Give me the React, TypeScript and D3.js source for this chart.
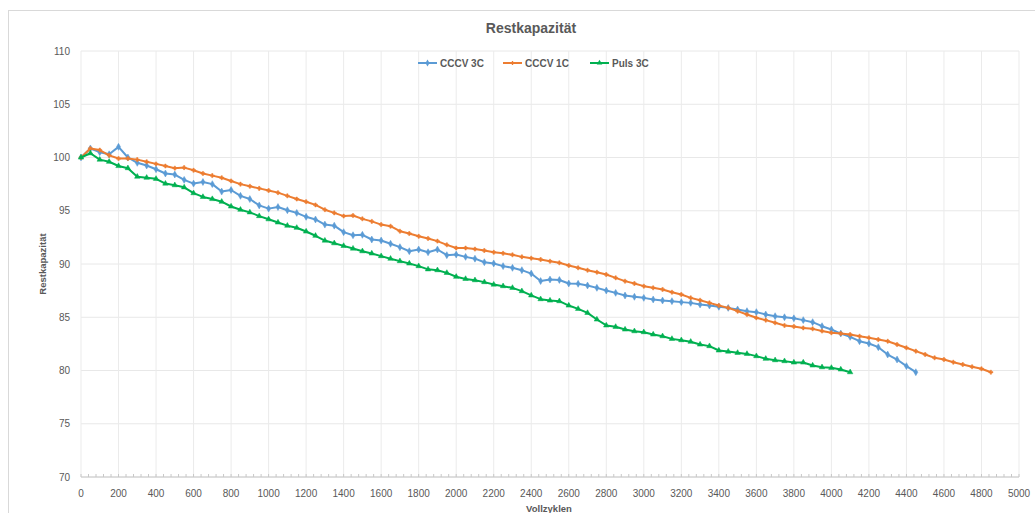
import React from "react";
import * as d3 from "d3";

const TITLE = "Restkapazität";
const X_TITLE = "Vollzyklen";
const Y_TITLE = "Restkapazität";
const CYCLE_STEP = 50;

const X_TICKS = [0, 200, 400, 600, 800, 1000, 1200, 1400, 1600, 1800, 2000, 2200, 2400, 2600, 2800, 3000, 3200, 3400, 3600, 3800, 4000, 4200, 4400, 4600, 4800, 5000];
const Y_TICKS = [70, 75, 80, 85, 90, 95, 100, 105, 110];

const cccv3C = [
  100, 100.85, 100.5, 100.3, 101.0, 100.0, 99.5, 99.25, 98.9, 98.5,
  98.4, 97.9, 97.55, 97.7, 97.5, 96.8, 96.95, 96.4, 96.1, 95.5,
  95.2, 95.35, 95.05, 94.8, 94.43, 94.18, 93.7, 93.6, 92.99, 92.7,
  92.74, 92.3, 92.2, 91.9, 91.58, 91.2, 91.36, 91.1, 91.36, 90.83,
  90.89, 90.67, 90.5, 90.17, 90.05, 89.8, 89.64, 89.42, 89.1, 88.4,
  88.54, 88.5, 88.17, 88.14, 87.98, 87.76, 87.51, 87.29, 87.04, 86.92,
  86.82, 86.67, 86.57, 86.51, 86.42, 86.35, 86.2, 86.1, 85.98, 85.88,
  85.73, 85.57, 85.48, 85.26, 85.1, 85.0, 84.9, 84.73, 84.54, 84.16,
  83.85, 83.47, 83.16, 82.75, 82.53, 82.19, 81.5, 81.03, 80.41, 79.84,
];

const cccv1C = [
  100, 100.85, 100.7, 100.2, 99.9, 99.9, 99.8, 99.6, 99.4, 99.2,
  99.0, 99.05, 98.8, 98.5, 98.3, 98.1, 97.8, 97.5, 97.3, 97.1,
  96.9, 96.7, 96.4, 96.1, 95.85, 95.55, 95.1, 94.8, 94.5, 94.55,
  94.24, 94.0, 93.7, 93.55, 93.08, 92.86, 92.6, 92.4, 92.15, 91.8,
  91.5, 91.5, 91.4, 91.27, 91.1, 91.0, 90.86, 90.67, 90.55, 90.42,
  90.26, 90.11, 89.86, 89.64, 89.42, 89.23, 89.01, 88.7, 88.39, 88.17,
  87.92, 87.76, 87.61, 87.35, 87.14, 86.82, 86.6, 86.35, 86.1, 85.88,
  85.57, 85.26, 84.95, 84.73, 84.48, 84.23, 84.13, 84.0, 83.91, 83.7,
  83.54, 83.47, 83.38, 83.22, 83.07, 82.91, 82.75, 82.44, 82.13, 81.82,
  81.5, 81.19, 81.03, 80.78, 80.56, 80.35, 80.16, 79.84,
];

const puls3C = [
  100, 100.4, 99.8, 99.6, 99.2, 99.0, 98.2, 98.1, 98.0, 97.55,
  97.4, 97.2, 96.65, 96.3, 96.1, 95.85, 95.4, 95.1, 94.85, 94.5,
  94.2, 93.9, 93.6, 93.4, 93.05, 92.65, 92.2, 91.95, 91.7, 91.45,
  91.2, 90.99, 90.74, 90.5, 90.27, 90.05, 89.8, 89.5, 89.42, 89.17,
  88.8, 88.6, 88.48, 88.3, 88.07, 87.92, 87.76, 87.45, 87.05, 86.7,
  86.57, 86.51, 86.1, 85.79, 85.41, 84.79, 84.23, 84.1, 83.85, 83.69,
  83.6, 83.38, 83.22, 82.97, 82.85, 82.7, 82.44, 82.29, 81.88, 81.78,
  81.66, 81.56, 81.35, 81.1, 80.97, 80.88, 80.75, 80.75, 80.47, 80.31,
  80.25, 80.1, 79.84,
];

const SERIES = [
  { name: "CCCV 3C", values: cccv3C, color: "#5B9BD5", marker: "diamond" },
  { name: "CCCV 1C", values: cccv1C, color: "#ED7D31", marker: "cross" },
  { name: "Puls 3C", values: puls3C, color: "#00B050", marker: "triangle" },
];

const W = 1035;
const H = 513;
const M = { left: 81, right: 1019, top: 51, bottom: 477 };
const FONT = "'Liberation Sans Narrow', 'Liberation Sans', Arial, sans-serif";
const TXT = "#595959";

function markerPath(type: string) {
  if (type === "diamond") return d3.symbol().type(d3.symbolDiamond).size(14)();
  if (type === "triangle") return d3.symbol().type(d3.symbolTriangle).size(13)();
  return d3.symbol().type(d3.symbolCross).size(9)();
}

export default function App() {
  const x = d3.scaleLinear().domain([0, 5000]).range([M.left, M.right]);
  const y = d3.scaleLinear().domain([70, 110]).range([M.bottom, M.top]);
  const line = d3
    .line<number>()
    .x((_, i) => x(i * CYCLE_STEP))
    .y((d) => y(d));
  const minorTicks = d3.range(0, 5001, 40);

  const legendX = [418, 503, 590];

  return (
    <svg
      width={W}
      height={H}
      style={{ position: "absolute", left: 0, top: 0, background: "#fff" }}
      fontFamily={FONT}
    >
      <rect x={8.5} y={10.5} width={1040} height={520} fill="#fff" stroke="#D9D9D9" />
      <text x={531} y={33} textAnchor="middle" fontSize={14} fill={TXT} fontWeight="bold">
        {TITLE}
      </text>
      {Y_TICKS.map((t) => (
        <line key={"gy" + t} x1={M.left} x2={M.right} y1={y(t)} y2={y(t)} stroke="#E8E8E8" strokeWidth={1} />
      ))}
      {X_TICKS.map((t) => (
        <line key={"gx" + t} x1={x(t)} x2={x(t)} y1={M.top} y2={M.bottom} stroke="#EBEBEB" strokeWidth={1} />
      ))}
      <line x1={M.left} x2={M.right} y1={M.bottom} y2={M.bottom} stroke="#C8C8C8" strokeWidth={1} />
      {minorTicks.map((t) => (
        <line key={"mt" + t} x1={x(t)} x2={x(t)} y1={M.bottom} y2={M.bottom - 3} stroke="#C8C8C8" strokeWidth={1} />
      ))}
      {X_TICKS.map((t) => (
        <text key={"xl" + t} x={x(t)} y={497} textAnchor="middle" fontSize={10} fill={TXT}>
          {t}
        </text>
      ))}
      {Y_TICKS.map((t) => (
        <text key={"yl" + t} x={70} y={y(t) + 3.5} textAnchor="end" fontSize={10} fill={TXT}>
          {t}
        </text>
      ))}
      <text x={549} y={512} textAnchor="middle" fontSize={9.5} fill={TXT} fontWeight="bold">
        {X_TITLE}
      </text>
      <text
        transform={`translate(46,${(M.top + M.bottom) / 2}) rotate(-90)`}
        textAnchor="middle"
        fontSize={9.5}
        fill={TXT}
        fontWeight="bold"
      >
        {Y_TITLE}
      </text>
      {SERIES.map((s) => (
        <g key={s.name}>
          <path d={line(s.values) || ""} fill="none" stroke={s.color} strokeWidth={2} strokeLinejoin="round" />
          {s.values.map((v, i) => (
            <path
              key={i}
              d={markerPath(s.marker) || ""}
              transform={`translate(${x(i * CYCLE_STEP)},${y(v)})`}
              fill={s.color}
              stroke={s.color}
              strokeWidth={0.5}
            />
          ))}
        </g>
      ))}
      {SERIES.map((s, i) => (
        <g key={"lg" + s.name} transform={`translate(${legendX[i]},63)`}>
          <line x1={0} x2={19} y1={0} y2={0} stroke={s.color} strokeWidth={2} />
          <path d={markerPath(s.marker) || ""} transform="translate(9.5,0)" fill={s.color} />
          <text x={22} y={3.5} fontSize={10} fill={TXT} fontWeight="bold">
            {s.name}
          </text>
        </g>
      ))}
    </svg>
  );
}
